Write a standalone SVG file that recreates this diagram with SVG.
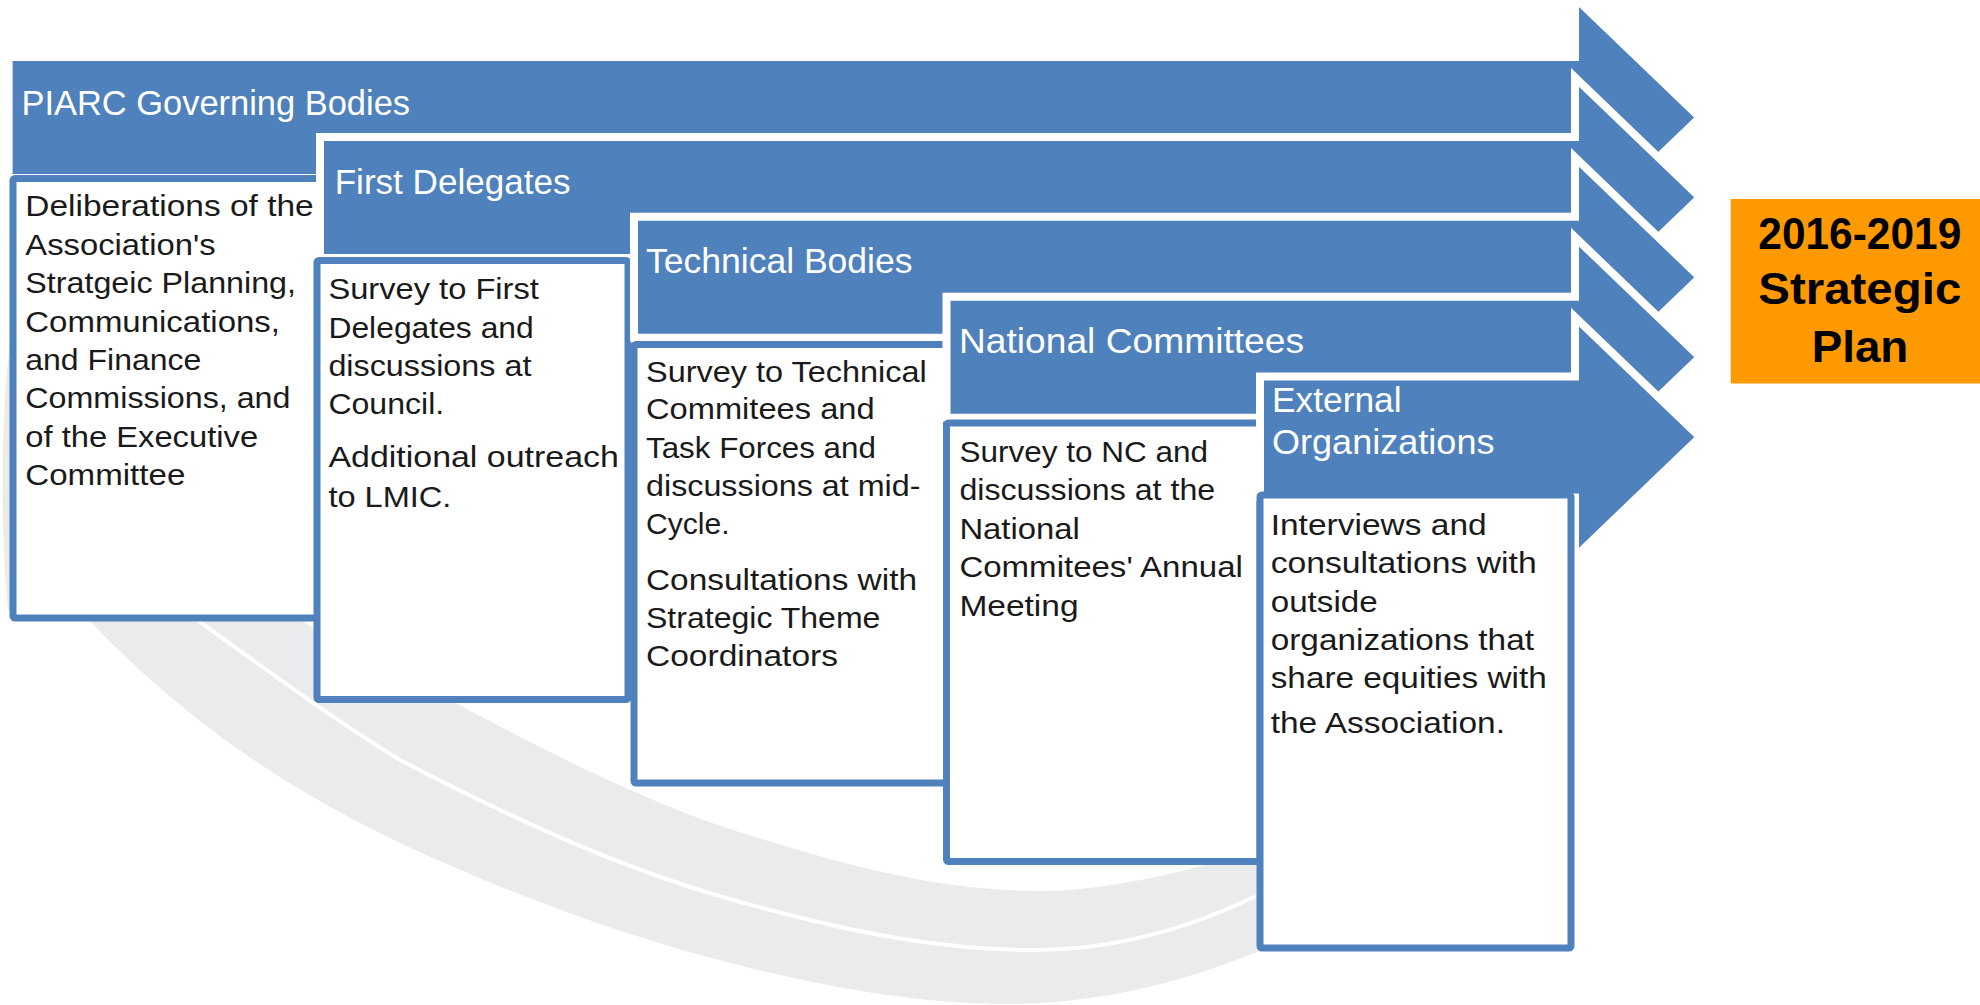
<svg xmlns="http://www.w3.org/2000/svg" width="1980" height="1005" viewBox="0 0 1980 1005">
<defs>
<style>
.arrow{fill:#4F81BD;stroke:#FFFFFF;stroke-width:8;stroke-linejoin:miter}
.box{fill:#FFFFFF;stroke:#4F81BD;stroke-width:7}
.hdr{font-family:"Liberation Sans",Arial,sans-serif;font-size:34.5px;fill:#FFFFFF}
.body{font-family:"Liberation Sans",Arial,sans-serif;font-size:30px;fill:#1A1A1A}
.plan{font-family:"Liberation Sans",Arial,sans-serif;font-size:44px;font-weight:bold;fill:#000000}
</style>
</defs>
<rect x="0" y="0" width="1980" height="1005" fill="#FFFFFF"/>

<g id="swoosh">
<path fill="#EAEBED" d="M 91,622 C 194,730 300,795 400,843 C 515,896 631,939 746,967 C 833,988 919,1004 1006,1004 C 1090,1004 1173,986 1257,952 L 1280,940 L 1280,840 L 1240,855 C 1200,868 1110,891 1040,891 C 935,891 840,864 733,830 C 640,800 545,750 455,703 C 400,675 350,650 300,620 L 200,450 L 60,330 L 12,328 C 2,390 -1,520 8,610 Z"/>
<path fill="none" stroke="#FFFFFF" stroke-width="4" d="M 160,590 L 200,622 C 267,670 333,719 400,760 C 511,818 622,869 733,900 C 833,928 933,950 1033,950 C 1108,950 1183,932 1258,895 L 1290,875"/>
</g>

<g id="stage-piarc">
<polygon class="arrow" points="8.6,57 1575,57 1575,-2.5 1700,117.5 1575,237.5 1575,178 8.6,178"/>
<text class="hdr" x="21.5" y="115" textLength="388.5" lengthAdjust="spacingAndGlyphs">PIARC Governing Bodies</text>
<rect class="box" x="13" y="178.5" width="307" height="439.5" rx="2"/>
<g class="body">
<text x="25.3" y="216.3" textLength="288.4" lengthAdjust="spacingAndGlyphs">Deliberations of the</text>
<text x="25.3" y="254.7" textLength="190.3" lengthAdjust="spacingAndGlyphs">Association's</text>
<text x="25.3" y="293.1" textLength="270.7" lengthAdjust="spacingAndGlyphs">Stratgeic Planning,</text>
<text x="25.3" y="331.5" textLength="254.7" lengthAdjust="spacingAndGlyphs">Communications,</text>
<text x="25.3" y="369.9" textLength="176" lengthAdjust="spacingAndGlyphs">and Finance</text>
<text x="25.3" y="408.3" textLength="265.2" lengthAdjust="spacingAndGlyphs">Commissions, and</text>
<text x="25.3" y="446.7" textLength="232.8" lengthAdjust="spacingAndGlyphs">of the Executive</text>
<text x="25.3" y="485.1" textLength="160" lengthAdjust="spacingAndGlyphs">Committee</text>
</g>
</g>

<g id="stage-first-delegates">
<polygon class="arrow" points="320,136.9 1575,136.9 1575,77.4 1700,197.4 1575,317.4 1575,257.9 320,257.9"/>
<text class="hdr" x="334.7" y="193.5" textLength="235.8" lengthAdjust="spacingAndGlyphs">First Delegates</text>
<rect class="box" x="317" y="260.5" width="311" height="439" rx="2"/>
<g class="body">
<text x="328.4" y="299" textLength="210.5" lengthAdjust="spacingAndGlyphs">Survey to First</text>
<text x="328.4" y="337.5" textLength="205.4" lengthAdjust="spacingAndGlyphs">Delegates and</text>
<text x="328.4" y="376" textLength="203" lengthAdjust="spacingAndGlyphs">discussions at</text>
<text x="328.4" y="414" textLength="115.8" lengthAdjust="spacingAndGlyphs">Council.</text>
<text x="328.4" y="466.5" textLength="290.5" lengthAdjust="spacingAndGlyphs">Additional outreach</text>
<text x="328.4" y="506.5" textLength="123" lengthAdjust="spacingAndGlyphs">to LMIC.</text>
</g>
</g>

<g id="stage-technical-bodies">
<polygon class="arrow" points="634,216.8 1575,216.8 1575,157.3 1700,277.3 1575,397.3 1575,337.8 634,337.8"/>
<text class="hdr" x="646" y="273" textLength="266.5" lengthAdjust="spacingAndGlyphs">Technical Bodies</text>
<rect class="box" x="634" y="344.5" width="312.5" height="438.5" rx="2"/>
<g class="body">
<text x="646" y="381.8" textLength="280.8" lengthAdjust="spacingAndGlyphs">Survey to Technical</text>
<text x="646" y="419" textLength="228.6" lengthAdjust="spacingAndGlyphs">Commitees and</text>
<text x="646" y="458" textLength="229.9" lengthAdjust="spacingAndGlyphs">Task Forces and</text>
<text x="646" y="495.8" textLength="274.5" lengthAdjust="spacingAndGlyphs">discussions at mid-</text>
<text x="646" y="534" textLength="83.5" lengthAdjust="spacingAndGlyphs">Cycle.</text>
<text x="646" y="589.8" textLength="271" lengthAdjust="spacingAndGlyphs">Consultations with</text>
<text x="646" y="627.5" textLength="234.4" lengthAdjust="spacingAndGlyphs">Strategic Theme</text>
<text x="646" y="666.3" textLength="192" lengthAdjust="spacingAndGlyphs">Coordinators</text>
</g>
</g>

<g id="stage-national-committees">
<polygon class="arrow" points="946.5,296.7 1575,296.7 1575,237.2 1700,357.2 1575,477.2 1575,417.7 946.5,417.7"/>
<text class="hdr" x="959" y="353" textLength="345" lengthAdjust="spacingAndGlyphs">National Committees</text>
<rect class="box" x="946.5" y="423" width="313.5" height="438.5" rx="2"/>
<g class="body">
<text x="959.4" y="462" textLength="248.6" lengthAdjust="spacingAndGlyphs">Survey to NC and</text>
<text x="959.4" y="500" textLength="255.8" lengthAdjust="spacingAndGlyphs">discussions at the</text>
<text x="959.4" y="538.5" textLength="120.5" lengthAdjust="spacingAndGlyphs">National</text>
<text x="959.4" y="577" textLength="283.5" lengthAdjust="spacingAndGlyphs">Commitees' Annual</text>
<text x="959.4" y="615.5" textLength="119.2" lengthAdjust="spacingAndGlyphs">Meeting</text>
</g>
</g>

<g id="stage-external-organizations">
<polygon class="arrow" points="1260,376.6 1575,376.6 1575,317.1 1700,437.1 1575,557.1 1575,497.6 1260,497.6"/>
<text class="hdr" x="1272" y="411.5" textLength="129.5" lengthAdjust="spacingAndGlyphs">External</text>
<text class="hdr" x="1272" y="453.5" textLength="222.5" lengthAdjust="spacingAndGlyphs">Organizations</text>
<rect class="box" x="1260" y="495" width="311" height="453" rx="2"/>
<g class="body">
<text x="1270.7" y="535" textLength="216" lengthAdjust="spacingAndGlyphs">Interviews and</text>
<text x="1270.7" y="572.7" textLength="266" lengthAdjust="spacingAndGlyphs">consultations with</text>
<text x="1270.7" y="611.7" textLength="107" lengthAdjust="spacingAndGlyphs">outside</text>
<text x="1270.7" y="650" textLength="263.3" lengthAdjust="spacingAndGlyphs">organizations that</text>
<text x="1270.7" y="688.3" textLength="276" lengthAdjust="spacingAndGlyphs">share equities with</text>
<text x="1270.7" y="733.3" textLength="234.3" lengthAdjust="spacingAndGlyphs">the Association.</text>
</g>
</g>

<g id="strategic-plan">
<rect x="1730.7" y="199" width="249.3" height="184.5" fill="#FF9900"/>
<text class="plan" x="1758.3" y="249.3" textLength="203" lengthAdjust="spacingAndGlyphs">2016-2019</text>
<text class="plan" x="1758.3" y="304" textLength="203" lengthAdjust="spacingAndGlyphs">Strategic</text>
<text class="plan" x="1811.7" y="361.7" textLength="96.6" lengthAdjust="spacingAndGlyphs">Plan</text>
</g>
</svg>
